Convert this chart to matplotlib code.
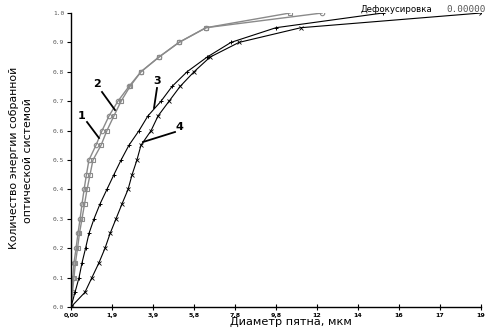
import matplotlib
matplotlib.use("Agg")
import matplotlib.pyplot as plt

# energy levels (y) common to all curves
energy = [0.0, 0.05, 0.10, 0.15, 0.20, 0.25, 0.30, 0.35, 0.40, 0.45, 0.50,
          0.55, 0.60, 0.65, 0.70, 0.75, 0.80, 0.85, 0.90, 0.95, 1.00]

d1 = [0.0, 0.05, 0.09, 0.14, 0.24, 0.33, 0.43, 0.52, 0.62, 0.73, 0.85,
      1.18, 1.47, 1.80, 2.22, 2.74, 3.31, 4.16, 5.11, 6.39, 11.88]
d2 = [0.0, 0.07, 0.14, 0.21, 0.31, 0.40, 0.52, 0.64, 0.76, 0.90, 1.04,
      1.42, 1.70, 2.03, 2.37, 2.79, 3.31, 4.16, 5.11, 6.39, 10.36]
d3 = [0.0, 0.19, 0.38, 0.52, 0.69, 0.85, 1.09, 1.37, 1.70, 2.03, 2.37,
      2.74, 3.22, 3.64, 4.26, 4.78, 5.49, 6.44, 7.57, 9.70, 14.76]
d4 = [0.0, 0.66, 0.99, 1.32, 1.61, 1.85, 2.13, 2.41, 2.70, 2.89, 3.12,
      3.31, 3.79, 4.12, 4.64, 5.16, 5.82, 6.58, 7.95, 10.88, 19.40]

x_ticks = [0.0, 1.94, 3.88, 5.82, 7.76, 9.70, 11.64, 13.58, 15.52, 17.46, 19.40]
x_ticklabels = ['0,00', '1,9', '3,9', '5,8', '7,8', '9,8', '12', '14', '16', '17', '19']
y_ticks = [0.0, 0.1, 0.2, 0.3, 0.4, 0.5, 0.6, 0.7, 0.8, 0.9, 1.0]
y_ticklabels = ['0.0', '0.1', '0.2', '0.3', '0.4', '0.5', '0.6', '0.7', '0.8', '0.9', '1.0']

fig = plt.figure(figsize=(4.91, 3.35), dpi=100)
ax = fig.add_axes([0.1446, 0.0836, 0.835, 0.8776])

grey = '#8a8a8a'
ax.plot(d1, energy, color=grey, lw=1.0, marker='o', ms=3.2, mfc='none', mew=0.8)
ax.plot(d2, energy, color=grey, lw=1.0, marker='s', ms=3.0, mfc='none', mew=0.8)
ax.plot(d3, energy, color='black', lw=0.8, marker='+', ms=3.0, mew=0.7)
ax.plot(d4, energy, color='black', lw=0.8, marker='x', ms=2.5, mew=0.6)

ax.set_xlim(0, 19.4)
ax.set_ylim(0, 1.0)
ax.set_xticks(x_ticks)
ax.set_xticklabels(x_ticklabels, fontsize=4.5, fontweight='bold')
ax.set_yticks(y_ticks)
ax.set_yticklabels(y_ticklabels, fontsize=4.5, family='DejaVu Sans Mono', color='#555555')
ax.tick_params(axis='x', direction='inout', length=4, width=0.8, pad=2)
ax.tick_params(axis='y', direction='out', length=3, width=0.8, pad=2)
for s in ['top', 'right']:
    ax.spines[s].set_visible(False)
for s in ['left', 'bottom']:
    ax.spines[s].set_linewidth(1.0)

ax.set_xlabel('Диаметр пятна, мкм', fontsize=8.1, labelpad=1)
ax.xaxis.set_label_coords((291 - 71) / 410.0, -0.035)
ax.xaxis.label.set_va('top')
fig.text(0.0295, 0.528, 'Количество энергии собранной', rotation=90,
         fontsize=7.8, ha='center', va='center')
fig.text(0.058, 0.522, 'оптической системой', rotation=90,
         fontsize=7.8, ha='center', va='center')

fig.text(0.735, 0.985, 'Дефокусировка', fontsize=6.2, ha='left', va='top')
fig.text(0.91, 0.985, '0.00000', fontsize=6.7, ha='left', va='top',
         family='DejaVu Sans Mono', color='#555555')

# curve labels with leader lines (figure pixel coords -> fig fraction)
def fx(px):
    return px / 491.0

def fy(py):
    return 1 - py / 335.0

labels = [('1', 82, 116, (87, 122), (99, 138)),
          ('2', 97, 84, (102, 92), (115, 110)),
          ('3', 157, 81, (157, 88), (154, 108)),
          ('4', 179, 127, (175, 132), (143, 142))]
for t, tx, ty, p0, p1 in labels:
    fig.text(fx(tx), fy(ty), t, fontsize=8, fontweight='bold', ha='center', va='center')
    fig.add_artist(plt.Line2D([fx(p0[0]), fx(p1[0])], [fy(p0[1]), fy(p1[1])],
                              color='black', lw=1.3, transform=fig.transFigure))

fig.savefig('out.png', dpi=100)
